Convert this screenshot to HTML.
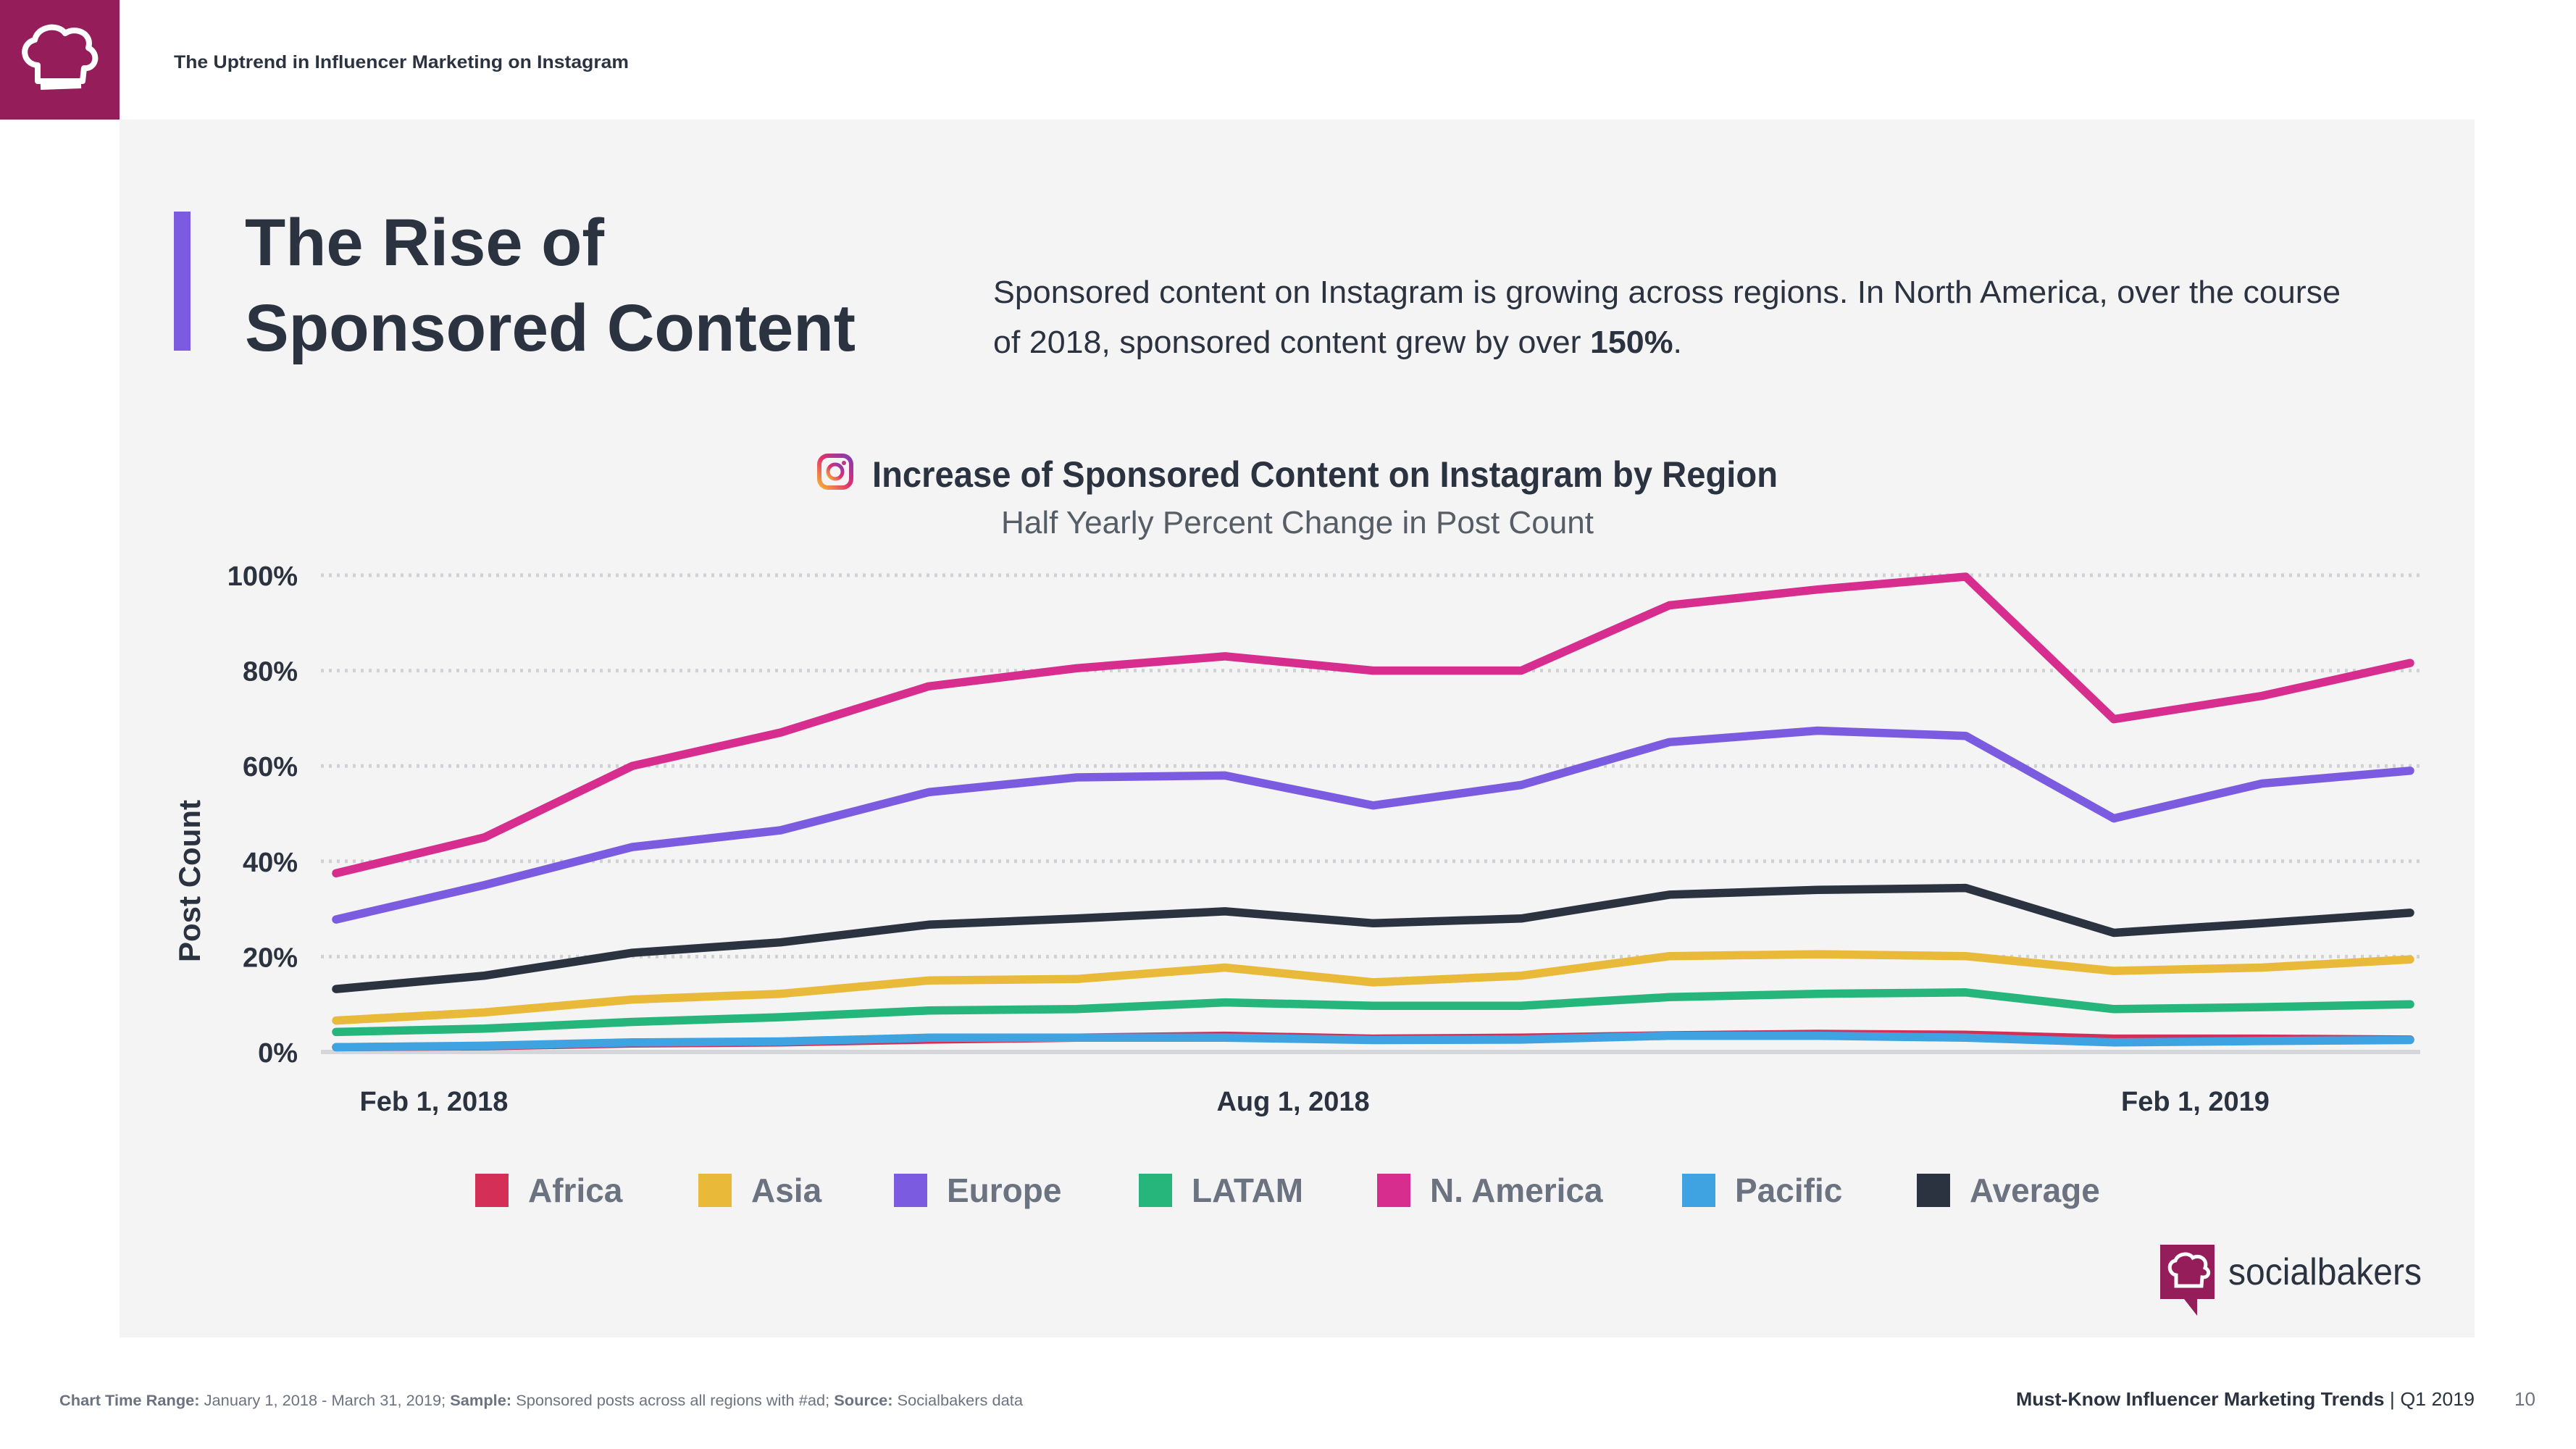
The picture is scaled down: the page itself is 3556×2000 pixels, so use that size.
<!DOCTYPE html>
<html><head><meta charset="utf-8"><style>
html,body{margin:0;padding:0;background:#fff;}
svg{display:block;font-family:"Liberation Sans",sans-serif;}
</style></head><body>
<svg id="chart" width="3556" height="2000" viewBox="0 0 3556 2000" xmlns="http://www.w3.org/2000/svg">
<rect x="0" y="0" width="3556" height="2000" fill="#ffffff"/>
<g>
<rect x="0" y="0" width="165" height="165" fill="#951d59"/>
<path d="M52 112 L52 90 C30 88 28 60 48 55 C52 36 80 32 90 46 C104 36 128 46 122 66 C138 74 132 96 116 94 L114 112 Z" fill="none" stroke="#fff" stroke-width="8" stroke-linejoin="round"/>
<path d="M56 120 L112 118" stroke="#fff" stroke-width="8"/>
</g>
<text x="240" y="94" font-size="25" font-weight="bold" fill="#2b3240" textLength="628" lengthAdjust="spacingAndGlyphs">The Uptrend in Influencer Marketing on Instagram</text>
<rect x="165" y="165" width="3251" height="1681" fill="#f4f4f4"/>
<rect x="240" y="292" width="23" height="192" fill="#7b5ce0"/>
<text x="338" y="366" font-size="92" font-weight="bold" fill="#2b3240" textLength="496" lengthAdjust="spacingAndGlyphs">The Rise of</text>
<text x="338" y="484" font-size="92" font-weight="bold" fill="#2b3240" textLength="843" lengthAdjust="spacingAndGlyphs">Sponsored Content</text>
<text x="1371" y="418" font-size="44" fill="#2b3240" textLength="1860" lengthAdjust="spacingAndGlyphs">Sponsored content on Instagram is growing across regions. In North America, over the course</text>
<text x="1371" y="487" font-size="44" fill="#2b3240" textLength="951" lengthAdjust="spacingAndGlyphs">of 2018, sponsored content grew by over <tspan font-weight="bold">150%</tspan>.</text>
<defs><linearGradient id="ig" x1="0" y1="1" x2="1" y2="0"><stop offset="0" stop-color="#f9b233"/><stop offset="0.5" stop-color="#e1306c"/><stop offset="1" stop-color="#833ab4"/></linearGradient></defs>
<g>
<rect x="1131" y="629" width="44" height="44" rx="12" fill="none" stroke="url(#ig)" stroke-width="6"/>
<circle cx="1153" cy="651" r="10" fill="none" stroke="url(#ig)" stroke-width="5"/>
<circle cx="1165" cy="639" r="3" fill="#c13584"/>
</g>
<text x="1204" y="672" font-size="50" font-weight="bold" fill="#2b3240" textLength="1250" lengthAdjust="spacingAndGlyphs">Increase of Sponsored Content on Instagram by Region</text>
<text x="1382" y="736" font-size="44" fill="#555d66" textLength="818" lengthAdjust="spacingAndGlyphs">Half Yearly Percent Change in Post Count</text>
<text transform="translate(276,1216) rotate(-90)" text-anchor="middle" font-size="42" font-weight="bold" fill="#2b3240">Post Count</text>
<g id="grid"></g>
<g id="series"></g>
<g id="xlabels"></g>
<g id="legend"></g>
<g>
<rect x="2982" y="1718" width="75" height="75" fill="#951d59"/>
<path d="M3015 1793 L3033 1793 L3033 1816 Z" fill="#951d59"/>
<path d="M3004 1775 L3004 1760 C2993 1758 2992 1742 3003 1740 C3006 1730 3022 1728 3027 1736 C3036 1731 3048 1738 3044 1750 C3052 1754 3049 1764 3040 1763 L3039 1775 Z" fill="none" stroke="#fff" stroke-width="5"/>
<text x="3076" y="1773" font-size="52" fill="#2b3240" textLength="267" lengthAdjust="spacingAndGlyphs">socialbakers</text>
</g>
<text x="82" y="1940" font-size="21" fill="#6b7280" textLength="1330" lengthAdjust="spacingAndGlyphs"><tspan font-weight="bold">Chart Time Range:</tspan> January 1, 2018 - March 31, 2019; <tspan font-weight="bold">Sample:</tspan> Sponsored posts across all regions with #ad; <tspan font-weight="bold">Source:</tspan> Socialbakers data</text>
<text x="2783" y="1940" font-size="26" fill="#2b3240" textLength="633" lengthAdjust="spacingAndGlyphs"><tspan font-weight="bold">Must-Know Influencer Marketing Trends</tspan> | Q1 2019</text>
<text x="3471" y="1940" font-size="26" fill="#6b7280">10</text>
</svg>
<script>
const yTicks = [0, 20, 40, 60, 80, 100];
const yTickLabels = ['0%', '20%', '40%', '60%', '80%', '100%'];
const xLabels = ['Feb 1, 2018', 'Aug 1, 2018', 'Feb 1, 2019'];
const xLabelPos = [0.66, 6.46, 12.55];
const seriesNames = ['Africa', 'Asia', 'Europe', 'LATAM', 'N. America', 'Pacific', 'Average'];
const africa   = [1, 1.2, 1.8, 2, 2.6, 3, 3.4, 2.8, 3, 3.5, 3.8, 3.6, 2.8, 2.8, 2.6];
const asia     = [6.6, 8.3, 11, 12.2, 15, 15.3, 17.7, 14.6, 16, 20.1, 20.5, 20.1, 17, 17.7, 19.4];
const europe   = [27.8, 35, 43, 46.5, 54.5, 57.6, 58, 51.7, 56, 65, 67.4, 66.3, 49, 56.3, 59];
const latam    = [4.2, 4.9, 6.3, 7.3, 8.7, 9, 10.4, 9.7, 9.7, 11.5, 12.2, 12.5, 9, 9.4, 10];
const nAmerica = [37.5, 45, 60, 67, 76.7, 80.5, 83, 80, 80, 93.7, 97, 99.7, 69.8, 74.7, 81.6];
const pacific  = [1, 1.3, 2, 2.2, 3, 3, 3, 2.5, 2.6, 3.4, 3.4, 3, 2, 2.3, 2.5];
const average  = [13.2, 16, 20.8, 23, 26.7, 28, 29.5, 27, 28, 33, 34, 34.4, 25, 27, 29.2];

const NS = 'http://www.w3.org/2000/svg';
const colors = ['#d42f57', '#e9b93a', '#7b5ce0', '#26b57a', '#d72d8e', '#3ea3e0', '#2b3240'];
const allData = [africa, asia, europe, latam, nAmerica, pacific, average];
const X0 = 464, X1 = 3327, Y0 = 1452, Y100 = 794, GX0 = 443, GX1 = 3341;
const n = africa.length;
function xs(i) { return X0 + (X1 - X0) * i / (n - 1); }
function ys(v) { return Y0 + (Y100 - Y0) * v / 100; }
function mk(tag, attrs) { const e = document.createElementNS(NS, tag); for (const k in attrs) e.setAttribute(k, attrs[k]); return e; }

const grid = document.getElementById('grid');
yTicks.forEach((t, i) => {
  const y = ys(t);
  const ln = mk('line', {x1: GX0, x2: GX1, y1: y, y2: y, stroke: t === 0 ? '#d4d6da' : '#cfd1d4', 'stroke-width': t === 0 ? 6 : 5, 'stroke-dasharray': t === 0 ? 'none' : '4 7'});
  
  
  grid.appendChild(ln);
  const tx = mk('text', {x: 411, y: y + 14, 'text-anchor': 'end', 'font-size': 38, 'font-weight': 'bold', fill: '#2b3240'});
  tx.textContent = yTickLabels[i];
  
  
  grid.appendChild(tx);
});

const sg = document.getElementById('series');
const order = [0, 5, 3, 1, 6, 2, 4];
order.forEach(si => {
  const d = allData[si].map((v, i) => (i ? 'L' : 'M') + xs(i).toFixed(1) + ' ' + ys(v).toFixed(1)).join(' ');
  const p = mk('path', {d: d, fill: 'none', stroke: colors[si], 'stroke-width': 11.5, 'stroke-linejoin': 'round', 'stroke-linecap': 'round'});
  
  
  sg.appendChild(p);
});

const xg = document.getElementById('xlabels');
xLabels.forEach((l, i) => {
  const tx = mk('text', {x: xs(xLabelPos[i]), y: 1533, 'text-anchor': 'middle', 'font-size': 38, 'font-weight': 'bold', fill: '#2b3240'});
  tx.textContent = l;
  
  
  xg.appendChild(tx);
});

const lg = document.getElementById('legend');
const legX = [656, 964, 1234, 1572, 1901, 2322, 2646];
seriesNames.forEach((nm, i) => {
  const g = mk('g', {});
  
  
  g.appendChild(mk('rect', {x: legX[i], y: 1620, width: 46, height: 46, fill: colors[i]}));
  const tx = mk('text', {x: legX[i] + 73, y: 1659, 'font-size': 46, 'font-weight': 'bold', fill: '#6b7280'});
  tx.textContent = nm;
  g.appendChild(tx);
  lg.appendChild(g);
});
</script>
</body></html>
